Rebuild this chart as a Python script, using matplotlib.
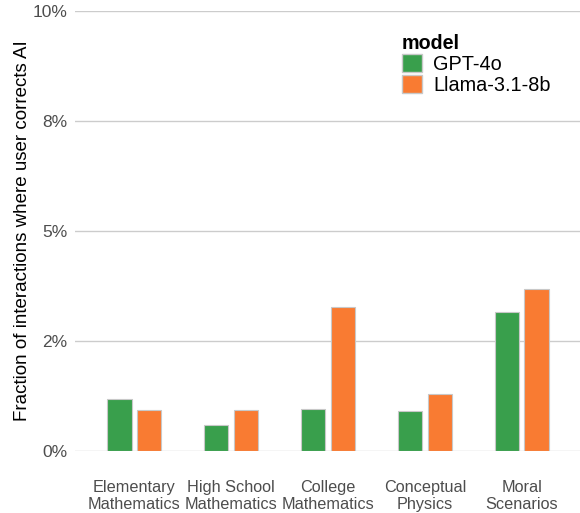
import matplotlib
matplotlib.use("Agg")
import matplotlib.pyplot as plt
import numpy as np
from matplotlib.patches import Patch

plt.rcParams['font.family'] = ['Liberation Sans', 'DejaVu Sans']

categories = ["Elementary\nMathematics", "High School\nMathematics", "College\nMathematics",
              "Conceptual\nPhysics", "Moral\nScenarios"]
models = ["GPT-4o", "Llama-3.1-8b"]
gpt4o = [1.19, 0.59, 0.95, 0.91, 3.17]
llama = [0.93, 0.93, 3.28, 1.30, 3.68]
colors = ["#399f4c", "#f97b32"]

yticks = [0, 2.5, 5, 7.5, 10]
ytick_labels = ["0%", "2%", "5%", "8%", "10%"]

fig = plt.figure(figsize=(5.8, 5.13), dpi=100)
ax = fig.add_axes([75 / 580, 62 / 513, 505 / 580, 440 / 513])

x = np.arange(1, len(categories) + 1)
w = 0.25
off = 0.152
ax.bar(x - off, gpt4o, width=w, color=colors[0], edgecolor="#c8c8c8", linewidth=0.8, zorder=3)
ax.bar(x + off, llama, width=w, color=colors[1], edgecolor="#c8c8c8", linewidth=0.8, zorder=3)

ax.set_xlim(0.39, 5.6)
ax.set_ylim(0, 10)
ax.set_yticks(yticks)
ax.set_yticklabels(ytick_labels)
ax.set_xticks(x)
ax.set_xticklabels(categories)
ax.grid(axis="y", color="#cccccc", linewidth=1.0, zorder=0)
for s in ax.spines.values():
    s.set_visible(False)
ax.tick_params(axis="y", length=0, labelsize=12.5, labelcolor="#4d4d4d", pad=5.5)
ax.tick_params(axis="x", length=0, labelsize=11.7, labelcolor="#4d4d4d", pad=21)
for lbl in ax.get_xticklabels():
    lbl.set_linespacing(1.15)

ax.set_ylabel("Fraction of interactions where user corrects AI", fontsize=13.5, color="black", labelpad=1)

handles = [Patch(facecolor=c, edgecolor="#c8c8c8", label=m) for c, m in zip(colors, models)]
leg = ax.legend(handles=handles, title="model", loc="upper left", bbox_to_anchor=(0.632, 0.965),
                frameon=False, fontsize=14.3, title_fontsize=14.2, handlelength=1.0, handleheight=1.0,
                handletextpad=0.55, labelspacing=0.05, borderaxespad=0)
leg.get_title().set_fontweight("bold")
leg._legend_box.align = "left"

fig.savefig("out.png", dpi=100)
